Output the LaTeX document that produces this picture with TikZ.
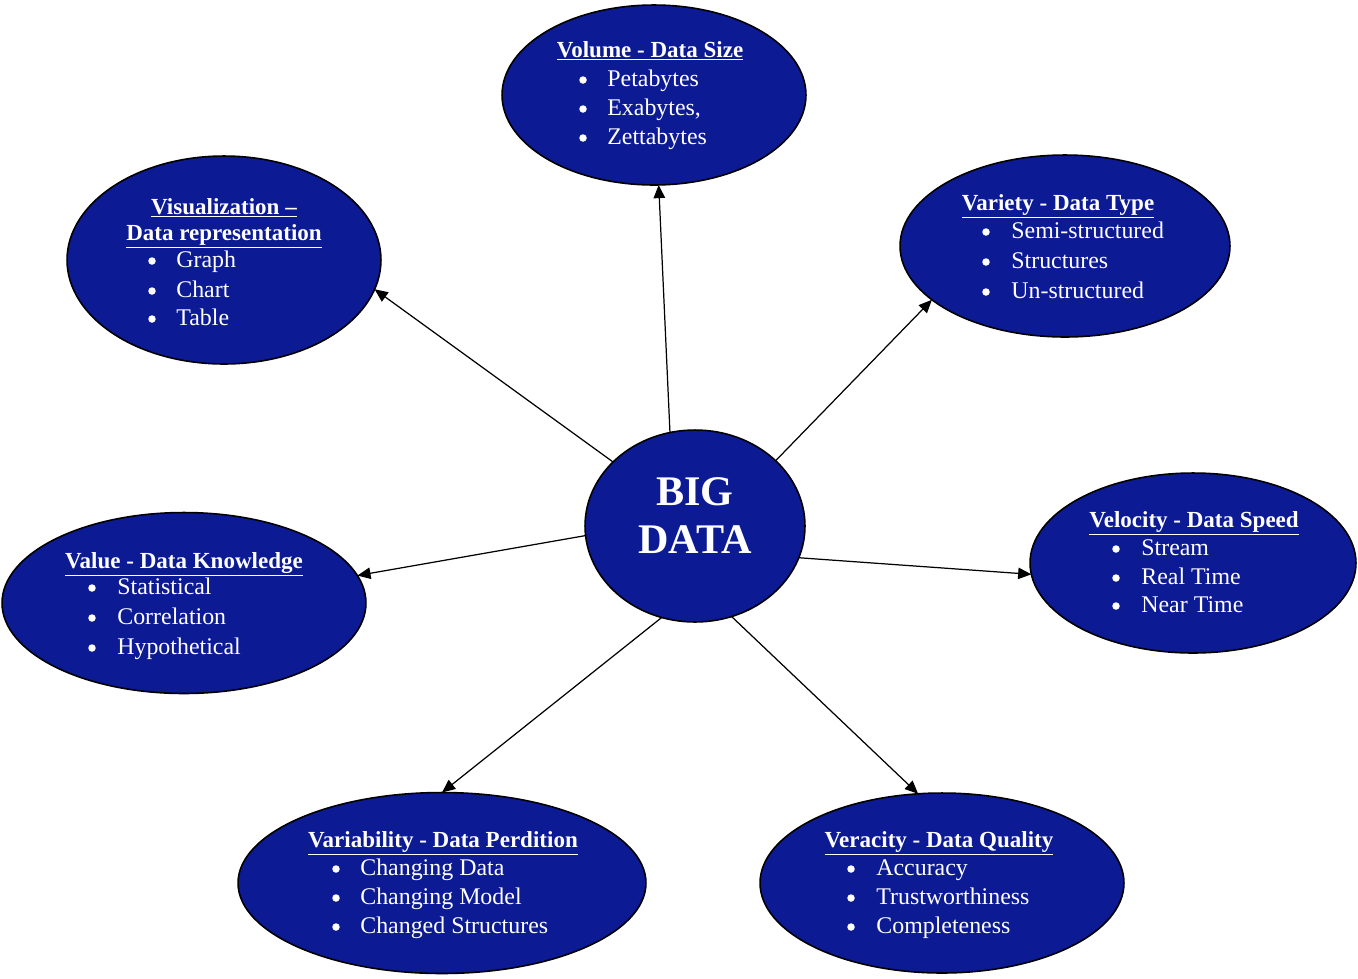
\documentclass[tikz,border=0pt]{standalone}
\usepackage{fontspec}
\setmainfont{Liberation Serif}
\usetikzlibrary{arrows.meta,shapes.geometric}
\definecolor{bdblue}{RGB}{12,26,148}
\tikzset{
  oval/.style={ellipse,draw=black,line width=0.9pt,fill=bdblue,inner sep=0pt,outer sep=0pt},
  ttl/.style={text=white,font=\fontsize{13.1}{15}\selectfont\bfseries,inner sep=0pt,anchor=base},
  itm/.style={text=white,font=\fontsize{13.6}{16}\selectfont,inner sep=0pt,anchor=base west},
  bul/.style={circle,fill=white,inner sep=0pt,minimum size=0.15cm},
  conn/.style={line width=0.7pt,-{Triangle[length=7.5pt,width=6.5pt]}}
}
\newcommand{\uline}[1]{\underline{#1}}
\newcommand{\bitem}[5]{%
  \node[bul] (#1b) at (#2,#4-6) {};
  \node[itm] (#1) at (#3,#4) {#5};}
\begin{document}
\begin{tikzpicture}[x=0.02cm,y=-0.02cm]
\useasboundingbox (0,0) rectangle (1358,978);
% ovals
\node[oval,minimum width=6.08cm,minimum height=3.6cm] (vol) at (654,95) {};
\node[oval,minimum width=6.28cm,minimum height=4.16cm] (vis) at (224,260) {};
\node[oval,minimum width=6.6cm,minimum height=3.64cm] (var) at (1065,246) {};
\node[oval,minimum width=4.4cm,minimum height=3.84cm] (big) at (695,526) {};
\node[oval,minimum width=6.52cm,minimum height=3.6cm] (vel) at (1193,563) {};
\node[oval,minimum width=7.28cm,minimum height=3.62cm] (val) at (184,603) {};
\node[oval,minimum width=8.16cm,minimum height=3.62cm] (vbl) at (442,883) {};
\node[oval,minimum width=7.28cm,minimum height=3.6cm] (ver) at (942,883) {};
% center text
\node[text=white,font=\fontsize{24}{28}\selectfont\bfseries,inner sep=0pt,anchor=base] (bigA) at (695,505) {BIG};
\node[text=white,font=\fontsize{24}{28}\selectfont\bfseries,inner sep=0pt,anchor=base] (bigB) at (695,553) {DATA};
% Volume
\node[ttl] (volT) at (650,57) {\uline{Volume - Data Size}};
\bitem{volA}{583}{607}{86}{Petabytes}
\bitem{volB}{583}{607}{115}{Exabytes,}
\bitem{volC}{583}{607}{144}{Zettabytes}
% Visualization
\node[ttl] (visT1) at (224,214) {\uline{Visualization --}};
\node[ttl] (visT2) at (224,240) {\uline{Data representation}};
\bitem{visA}{152}{176}{267}{Graph}
\bitem{visB}{152}{176}{297}{Chart}
\bitem{visC}{152}{176}{325}{Table}
% Variety
\node[ttl] (varT) at (1058,210) {\uline{Variety - Data Type}};
\bitem{varA}{986}{1011}{238}{Semi-structured}
\bitem{varB}{986}{1011}{268}{Structures}
\bitem{varC}{986}{1011}{298}{Un-structured}
% Velocity
\node[ttl] (velT) at (1194,527) {\uline{Velocity - Data Speed}};
\bitem{velA}{1116}{1141}{555}{Stream}
\bitem{velB}{1116}{1141}{584}{Real Time}
\bitem{velC}{1116}{1141}{612}{Near Time}
% Value
\node[ttl] (valT) at (184,568) {\uline{Value - Data Knowledge}};
\bitem{valA}{92}{117}{594}{Statistical}
\bitem{valB}{92}{117}{624}{Correlation}
\bitem{valC}{92}{117}{654}{Hypothetical}
% Variability
\node[ttl] (vblT) at (443,847) {\uline{Variability - Data Perdition}};
\bitem{vblA}{336}{360}{875}{Changing Data}
\bitem{vblB}{336}{360}{904}{Changing Model}
\bitem{vblC}{336}{360}{933}{Changed Structures}
% Veracity
\node[ttl] (verT) at (939,847) {\uline{Veracity - Data Quality}};
\bitem{verA}{851}{876}{875}{Accuracy}
\bitem{verB}{851}{876}{904}{Trustworthiness}
\bitem{verC}{851}{876}{933}{Completeness}
% connectors
\draw[conn] (big.105.9) -- (vol.273);
\draw[conn] (big.142.8) -- (vis.349.5);
\draw[conn] (big.39.1) -- (var.202.9);
\draw[conn] (big.343.4) -- (vel.184.2);
\draw[conn] (big.185.2) -- (val.9.2);
\draw[conn] (big.250.3) -- (vbl.90.6);
\draw[conn] (big.292.4) -- (ver.105.4);
\end{tikzpicture}
\end{document}
